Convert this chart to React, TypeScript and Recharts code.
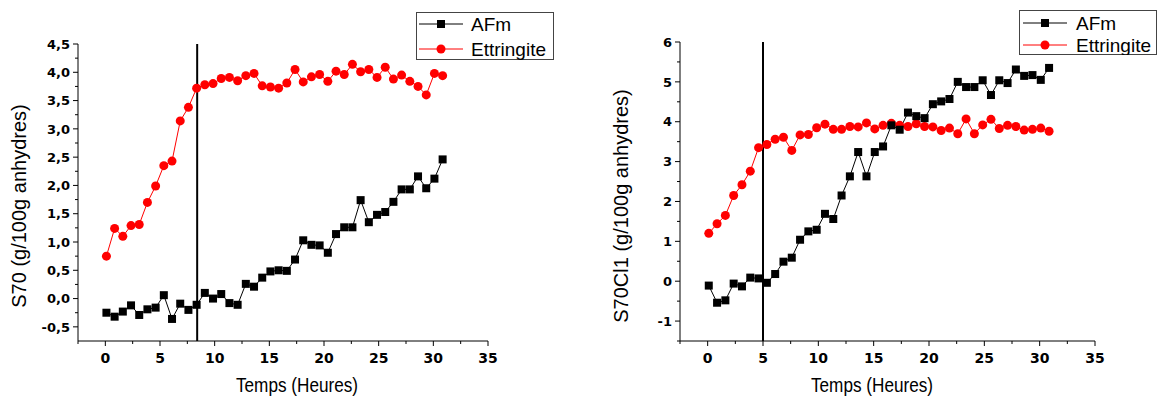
import { LineChart, Line, XAxis, YAxis, ReferenceLine, Label } from "recharts";

// sampling times (hours), shared by both experiments
const times = [
  0.1, 0.85, 1.6, 2.35, 3.1, 3.85, 4.6, 5.35, 6.1, 6.85, 7.6, 8.35, 9.1, 9.85,
  10.6, 11.35, 12.1, 12.85, 13.6, 14.35, 15.1, 15.85, 16.6, 17.35, 18.1, 18.85,
  19.6, 20.35, 21.1, 21.85, 22.6, 23.35, 24.1, 24.85, 25.6, 26.35, 27.1, 27.85,
  28.6, 29.35, 30.1, 30.85,
];

// S70
const afmS70 = [
  -0.25, -0.32, -0.23, -0.12, -0.29, -0.19, -0.16, 0.06, -0.36, -0.09, -0.2, -0.11,
  0.1, 0.0, 0.08, -0.08, -0.11, 0.26, 0.21, 0.37, 0.48, 0.5, 0.49, 0.69, 1.03, 0.95,
  0.94, 0.81, 1.14, 1.26, 1.26, 1.74, 1.35, 1.48, 1.53, 1.71, 1.93, 1.93, 2.16, 1.95,
  2.12, 2.46,
];
const ettS70 = [
  0.75, 1.24, 1.1, 1.29, 1.31, 1.7, 1.99, 2.35, 2.43, 3.14, 3.38, 3.72, 3.78, 3.8,
  3.89, 3.91, 3.85, 3.94, 3.98, 3.76, 3.74, 3.72, 3.81, 4.05, 3.83, 3.92, 3.96, 3.84,
  4.02, 3.96, 4.14, 4.01, 4.05, 3.91, 4.09, 3.88, 3.95, 3.84, 3.75, 3.6, 3.98, 3.94,
];

// S70Cl1
const afmS70Cl1 = [
  -0.11, -0.54, -0.48, -0.06, -0.13, 0.09, 0.07, -0.04, 0.18, 0.49, 0.59, 1.04, 1.25,
  1.29, 1.69, 1.56, 2.15, 2.63, 3.24, 2.63, 3.24, 3.38, 3.91, 3.8, 4.23, 4.14, 4.09,
  4.44, 4.51, 4.57, 5.0, 4.87, 4.87, 5.04, 4.67, 5.04, 4.97, 5.31, 5.15, 5.17, 5.05,
  5.35,
];
const ettS70Cl1 = [
  1.2, 1.44, 1.65, 2.15, 2.42, 2.76, 3.35, 3.43, 3.56, 3.61, 3.28, 3.67, 3.68, 3.85,
  3.94, 3.81, 3.81, 3.88, 3.87, 3.97, 3.82, 3.91, 3.96, 3.91, 3.88, 3.95, 3.88, 3.87,
  3.78, 3.84, 3.7, 4.07, 3.7, 3.92, 4.06, 3.83, 3.91, 3.88, 3.79, 3.81, 3.84, 3.76,
];

const markerS70 = 8.4;
const markerS70Cl1 = 5;

const xMajor = [0, 5, 10, 15, 20, 25, 30, 35];
const xTicks = [-2.5, 0, 2.5, 5, 7.5, 10, 12.5, 15, 17.5, 20, 22.5, 25, 27.5, 30, 32.5, 35];

const yMajorS70 = [-0.5, 0, 0.5, 1, 1.5, 2, 2.5, 3, 3.5, 4, 4.5];
const yTicksS70 = [
  -0.5, -0.25, 0, 0.25, 0.5, 0.75, 1, 1.25, 1.5, 1.75, 2, 2.25, 2.5, 2.75, 3, 3.25,
  3.5, 3.75, 4, 4.25, 4.5,
];
const yMajorS70Cl1 = [-1, 0, 1, 2, 3, 4, 5, 6];
const yTicksS70Cl1 = [-1.5, -1, -0.5, 0, 0.5, 1, 1.5, 2, 2.5, 3, 3.5, 4, 4.5, 5, 5.5, 6];

const FONT = "'Liberation Sans', Arial, sans-serif";
const TICK_FONT = "'DejaVu Sans', 'Liberation Sans', Arial, sans-serif";

const s70Data = times.map((t, i) => ({ t, afm: afmS70[i], ett: ettS70[i] }));
const s70Cl1Data = times.map((t, i) => ({ t, afm: afmS70Cl1[i], ett: ettS70Cl1[i] }));

const isIn = (list: number[], v: number) => list.some((m) => Math.abs(m - v) < 1e-6);

function yTick(major: number[], fmt: (v: number) => string) {
  return (props: any) => {
    const { x, y, payload } = props;
    const big = isIn(major, payload.value);
    return (
      <g>
        <line x1={x} x2={x - (big ? 5 : 3)} y1={y} y2={y} stroke="#000" />
        {big && (
          <text x={x - 8} y={y} dy="0.36em" textAnchor="end" fontFamily={TICK_FONT}
            fontWeight="bold" fontSize={13} fill="#000">
            {fmt(payload.value)}
          </text>
        )}
      </g>
    );
  };
}

function xTick(props: any) {
  const { x, y, payload } = props;
  const big = isIn(xMajor, payload.value);
  return (
    <g>
      <line x1={x} x2={x} y1={y} y2={y + (big ? 5 : 3)} stroke="#000" />
      {big && (
        <text x={x} y={y + 17} dy="0.36em" textAnchor="middle" fontFamily={TICK_FONT}
          fontWeight="bold" fontSize={14} fill="#000">
          {payload.value}
        </text>
      )}
    </g>
  );
}

function SquareDot(props: any) {
  const { cx, cy, index } = props;
  return <rect key={`sq-${index}`} x={cx - 4} y={cy - 4} width={8} height={8} fill="#000" />;
}

function LegendBox({ left, top, w, h, lineX1, lineX2, textX, row1, row2 }: any) {
  const mx = (lineX1 + lineX2) / 2;
  return (
    <svg width={w} height={h} style={{ position: "absolute", left, top, display: "block" }}>
      <rect x={0.5} y={0.5} width={w - 1} height={h - 1} fill="#fff" stroke="#444" />
      <line x1={lineX1} x2={lineX2} y1={row1} y2={row1} stroke="#000" />
      <rect x={mx - 4} y={row1 - 4} width={8} height={8} fill="#000" />
      <text x={textX} y={row1} dy="0.36em" fontFamily={FONT} fontSize={19}>AFm</text>
      <line x1={lineX1} x2={lineX2} y1={row2} y2={row2} stroke="#ff0000" />
      <circle cx={mx} cy={row2} r={4.5} fill="#ff0000" />
      <text x={textX} y={row2} dy="0.36em" fontFamily={FONT} fontSize={19}>Ettringite</text>
    </svg>
  );
}

function Panel({ data, yTitle, domain, yTicks, yMajor, fmt, marker, yAxisWidth, marginTop, marginRight,
  legend, xTitleOffset }: any) {
  return (
    <div style={{ position: "relative", width: 580, height: 401 }}>
      <LineChart width={580} height={401} data={data}
        margin={{ top: marginTop, right: marginRight, bottom: 0, left: 0 }}>
        <XAxis type="number" dataKey="t" domain={[-2.5, 35]} ticks={xTicks} interval={0}
          height={60} tickSize={0} tickMargin={0} tick={xTick} stroke="#000" allowDataOverflow>
          <Label content={(p: any) => (
            <text x={p.viewBox.x + xTitleOffset} y={p.viewBox.y + 44} dy="0.36em" textAnchor="middle"
              fontFamily={FONT} fontSize={20} textLength={122} lengthAdjust="spacingAndGlyphs">
              Temps (Heures)
            </text>
          )} />
        </XAxis>
        <YAxis type="number" domain={domain} ticks={yTicks} interval={0} width={yAxisWidth}
          tickSize={0} tickMargin={0} tick={yTick(yMajor, fmt)} stroke="#000" allowDataOverflow>
          <Label content={() => (
            <text transform={`translate(${yAxisWidth - 59}, 206) rotate(-90)`} textAnchor="middle"
              dy="0.36em" fontFamily={FONT} fontSize={20}>
              {yTitle}
            </text>
          )} />
        </YAxis>
        <ReferenceLine x={marker} stroke="#000" strokeWidth={2} />
        <Line type="linear" dataKey="ett" stroke="#ff0000" strokeWidth={1}
          dot={{ r: 4.5, fill: "#ff0000", stroke: "#ff0000", strokeWidth: 0 }} isAnimationActive={false} />
        <Line type="linear" dataKey="afm" stroke="#000" strokeWidth={1} dot={SquareDot}
          isAnimationActive={false} />
      </LineChart>
      <LegendBox {...legend} />
    </div>
  );
}

export default function App() {
  return (
    <div style={{ position: "absolute", left: 0, top: 0, width: 1160, height: 401, display: "flex", background: "#fff" }}>
      <Panel data={s70Data} yTitle="S70 (g/100g anhydres)" domain={[-0.75, 4.5]}
        yTicks={yTicksS70} yMajor={yMajorS70} fmt={(v: number) => v.toFixed(1).replace(".", ",")}
        marker={markerS70} yAxisWidth={78} marginTop={44} marginRight={92} xTitleOffset={219}
        legend={{ left: 416, top: 12, w: 138, h: 48, lineX1: 3, lineX2: 47, textX: 55, row1: 12, row2: 37 }} />
      <Panel data={s70Cl1Data} yTitle="S70Cl1 (g/100g anhydres)" domain={[-1.5, 6]}
        yTicks={yTicksS70Cl1} yMajor={yMajorS70Cl1} fmt={(v: number) => String(v)}
        marker={markerS70Cl1} yAxisWidth={100} marginTop={42} marginRight={65} xTitleOffset={192}
        legend={{ left: 439, top: 10, w: 138, h: 45, lineX1: 4, lineX2: 48, textX: 57, row1: 13, row2: 35 }} />
    </div>
  );
}
